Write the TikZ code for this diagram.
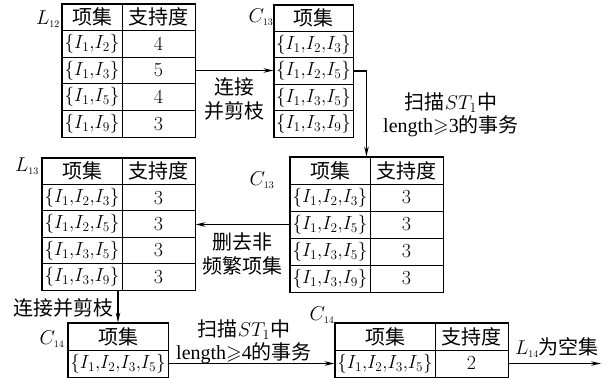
\documentclass[tikz,border=0pt]{standalone}
\usepackage{fix-cm}
\usepackage{amssymb}
\usepackage{fontspec}
\setmainfont{Liberation Serif}
\newfontfamily\cjk{Noto Sans CJK SC}
\usetikzlibrary{arrows.meta}
\begin{document}
\begin{tikzpicture}[x=1pt,y=-1pt,
  cell/.style={draw, line width=0.9pt, inner sep=0pt, font=\fontsize{19}{21}\selectfont},
  outer/.style={draw, line width=1.3pt},
  arr/.style={line width=1.1pt, -{Stealth[length=10pt,width=4.5pt]}},
  lbl/.style={inner sep=0pt, font=\fontsize{20}{22}\selectfont},
  txt/.style={inner sep=0pt, align=center, font=\fontsize{20}{23.5}\selectfont}]
\useasboundingbox (0,0) rectangle (606,378);
\newcommand{\hz}{\fontsize{20}{21}\selectfont\cjk}
\newcommand{\nm}[1]{{\fontsize{20}{21}\selectfont$#1$}}

% L12
\foreach \i/\a/\b in {0/{\hz 项集}/{\hz 支持度},1/{$\{I_1{,}I_2\}$}/{\nm{4}},2/{$\{I_1{,}I_3\}$}/{\nm{5}},3/{$\{I_1{,}I_5\}$}/{\nm{4}},4/{$\{I_1{,}I_9\}$}/{\nm{3}}}{
  \node[cell, minimum width=60pt, minimum height=26.6pt] (L12a\i) at (92,{17.3+26.6*\i}) {\a};
  \node[cell, minimum width=73pt, minimum height=26.6pt] (L12b\i) at (158.5,{17.3+26.6*\i}) {\b};
}
\draw[outer] (L12a0.north west) rectangle (L12b4.south east);
\node[lbl] (L12l) at (48,19) {$L_{\scriptscriptstyle 12}$};

% C13
\foreach \i/\a in {0/{\hz 项集},1/{$\{I_1{,}I_2{,}I_3\}$},2/{$\{I_1{,}I_2{,}I_5\}$},3/{$\{I_1{,}I_3{,}I_5\}$},4/{$\{I_1{,}I_3{,}I_9\}$}}{
  \node[cell, minimum width=79pt, minimum height=26.4pt] (C13a\i) at (313.5,{18.2+26.4*\i}) {\a};
}
\draw[outer] (C13a0.north west) rectangle (C13a4.south east);
\node[lbl] (C13l) at (261,17) {$C_{\scriptscriptstyle 13}$};

% C13 prime
\foreach \i/\a/\b in {0/{\hz 项集}/{\hz 支持度},1/{$\{I_1{,}I_2{,}I_3\}$}/{\nm{3}},2/{$\{I_1{,}I_2{,}I_5\}$}/{\nm{3}},3/{$\{I_1{,}I_3{,}I_5\}$}/{\nm{3}},4/{$\{I_1{,}I_3{,}I_9\}$}/{\nm{3}}}{
  \node[cell, minimum width=80pt, minimum height=27pt] (C13pa\i) at (330,{170.5+27*\i}) {\a};
  \node[cell, minimum width=73pt, minimum height=27pt] (C13pb\i) at (406.5,{170.5+27*\i}) {\b};
}
\draw[outer] (C13pa0.north west) rectangle (C13pb4.south east);
\node[lbl] (C13pl) at (262,180) {$C_{\scriptscriptstyle 13}$};

% L13
\foreach \i/\a/\b in {0/{\hz 项集}/{\hz 支持度},1/{$\{I_1{,}I_2{,}I_3\}$}/{\nm{3}},2/{$\{I_1{,}I_2{,}I_5\}$}/{\nm{3}},3/{$\{I_1{,}I_3{,}I_5\}$}/{\nm{3}},4/{$\{I_1{,}I_3{,}I_9\}$}/{\nm{3}}}{
  \node[cell, minimum width=80pt, minimum height=26.4pt] (L13a\i) at (82,{171.2+26.4*\i}) {\a};
  \node[cell, minimum width=73pt, minimum height=26.4pt] (L13b\i) at (158.5,{171.2+26.4*\i}) {\b};
}
\draw[outer] (L13a0.north west) rectangle (L13b4.south east);
\node[lbl] (L13l) at (27,166) {$L_{\scriptscriptstyle 13}$};

% C14
\foreach \i/\a in {0/{\hz 项集},1/{$\{I_1{,}I_2{,}I_3{,}I_5\}$}}{
  \node[cell, minimum width=100pt, minimum height=27pt] (C14a\i) at (118,{336.5+27*\i}) {\a};
}
\draw[outer] (C14a0.north west) rectangle (C14a1.south east);
\node[lbl] (C14l) at (52,339) {$C_{\scriptscriptstyle 14}$};

% C14 prime
\foreach \i/\a/\b in {0/{\hz 项集}/{\hz 支持度},1/{$\{I_1{,}I_2{,}I_3{,}I_5\}$}/{\nm{2}}}{
  \node[cell, minimum width=100pt, minimum height=27pt] (C14pa\i) at (385,{336.5+27*\i}) {\a};
  \node[cell, minimum width=73pt, minimum height=27pt] (C14pb\i) at (471.5,{336.5+27*\i}) {\b};
}
\draw[outer] (C14pa0.north west) rectangle (C14pb1.south east);
\node[lbl] (C14pl) at (322,315) {$C_{\scriptscriptstyle 14}$};

% connectors
\draw[arr] (L12b2.east) -- (L12b2.east -| C13a2.west);
\node[txt] (t1) at (234,99) {\cjk 连接\\\cjk 并剪枝};

\draw[arr] (C13a2.east) -| ([xshift=-4pt]C13pa0.north east);
\node[txt] (t2) at (451,115) {{\cjk 扫描}$ST_1${\cjk 中}\\length$\geqslant$3{\cjk 的事务}};

\draw[arr] (C13pa2.west) -- (C13pa2.west -| L13b2.east);
\node[txt] (t3) at (242,254) {\cjk 删去非\\\cjk 频繁项集};

\draw[arr] (C14a0.north |- L13a4.south) -- (C14a0.north);
\node[txt] (t4) at (63,308) {\cjk 连接并剪枝};

\draw[arr] (C14a1.east) -- (C14pa1.west);
\node[txt] (t5) at (244,342) {{\cjk 扫描}$ST_1${\cjk 中}\\length$\geqslant$4{\cjk 的事务}};

\coordinate (end) at (601,363.5);
\draw[arr] (C14pb1.east) -- (end);
\node[txt] (t6) at (557,348) {$L_{\scriptscriptstyle 14}${\cjk 为空集}};
\end{tikzpicture}
\end{document}
